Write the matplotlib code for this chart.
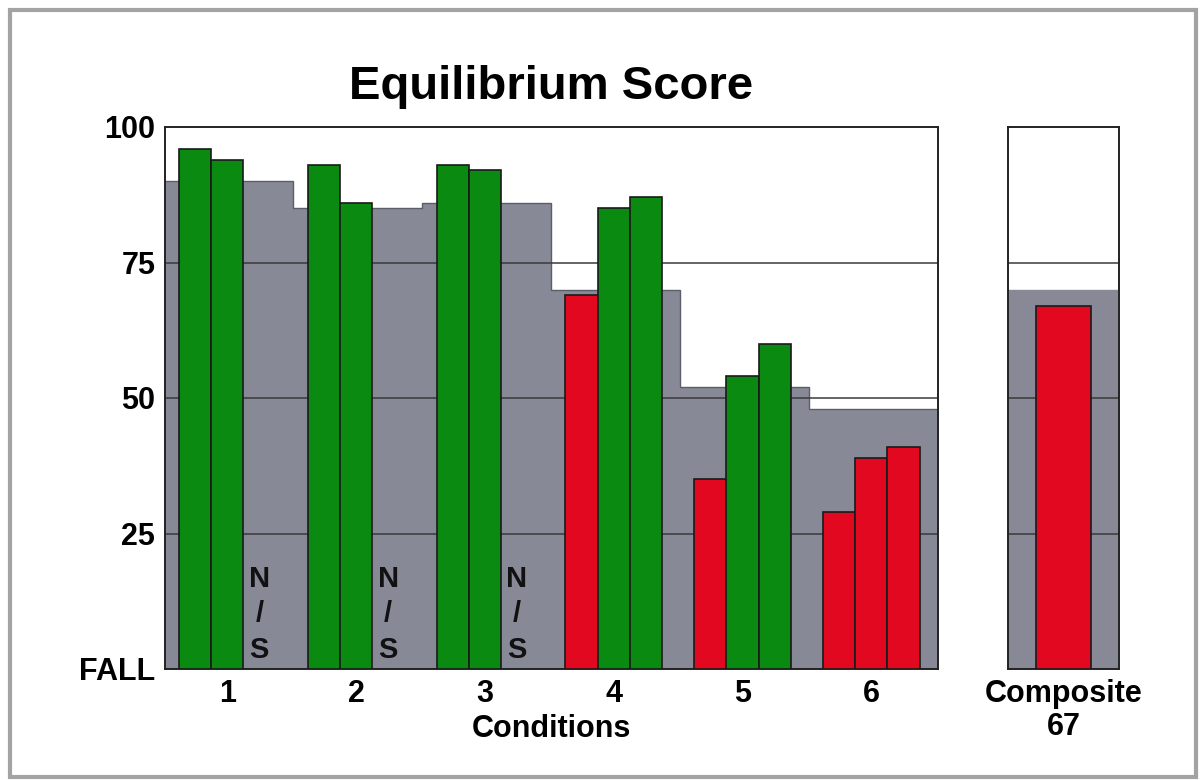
import matplotlib.pyplot as plt
from matplotlib.patches import Rectangle

# Sensory Organization Test - equilibrium scores per condition (3 trials each)
conditions = ["1", "2", "3", "4", "5", "6"]
trial1 = [96, 93, 93, 69, 35, 29]
trial2 = [94, 86, 92, 85, 54, 39]
trial3 = [None, None, None, 87, 60, 41]   # None -> N/S (not scored)
norm_limit = [90, 85, 86, 70, 52, 48]     # gray normal region
composite_score = 67
composite_norm = 70
ytick_vals = [0, 25, 50, 75, 100]
ytick_labels = ["FALL", "25", "50", "75", "100"]

GREEN = "#0b8a12"
RED = "#e2081f"
GRAY = "#878a96"
FONT = "Liberation Sans"


def bar_color(score, limit):
    return GREEN if score >= limit else RED


def main():
    plt.rcParams["font.family"] = [FONT, "DejaVu Sans"]
    plt.rcParams["font.weight"] = "bold"
    fig = plt.figure(figsize=(12.01, 7.80), dpi=100)

    ax = fig.add_axes([165 / 1201, 1 - 669 / 780, 773 / 1201, 542 / 780])
    axc = fig.add_axes([1008 / 1201, 1 - 669 / 780, 111 / 1201, 542 / 780])

    # gray normal region as a step across conditions
    edges = [-0.5] + [4 * i + 3.55 for i in range(len(conditions) - 1)] + [23.7]
    ax.stairs(norm_limit, edges, fill=True, color=GRAY, zorder=1)
    ax.stairs(norm_limit, edges, color="#5a5e68", linewidth=1.0, zorder=1.5)

    for y in [25, 50, 75]:
        ax.axhline(y, color="#3a3a3a", linewidth=1.1, zorder=2)

    trials = [trial1, trial2, trial3]
    for i, name in enumerate(conditions):
        for j, vals in enumerate(trials):
            x = 4 * i + j + 0.5
            v = vals[i]
            if v is None:
                ax.text(x, 1.0, "N\n/\nS", ha="center", va="bottom",
                        fontsize=21, fontweight="bold", linespacing=1.33,
                        color="#111111", zorder=4)
                continue
            ax.bar(x, v, width=1.0, color=bar_color(v, norm_limit[i]),
                   edgecolor="#1a1a1a", linewidth=1.2, zorder=3)

    ax.set_xlim(-0.43, 23.57)
    ax.set_ylim(0, 100)
    ax.set_xticks([4 * i + 1.5 for i in range(len(conditions))])
    ax.set_xticklabels(conditions)
    ax.set_yticks(ytick_vals)
    ax.set_yticklabels(ytick_labels)
    ax.tick_params(length=0, labelsize=22, pad=7)
    ax.set_xlabel("Conditions", fontsize=22, fontweight="bold", labelpad=4)
    ax.set_title("Equilibrium Score", fontsize=34, fontweight="bold", pad=20)
    for s in ax.spines.values():
        s.set_linewidth(1.4)
        s.set_color("#222222")

    # composite panel
    axc.axhspan(0, composite_norm, color=GRAY, zorder=1)
    for y in [25, 50, 75]:
        axc.axhline(y, color="#3a3a3a", linewidth=1.1, zorder=2)
    axc.bar(0, composite_score, width=0.5,
            color=bar_color(composite_score, composite_norm),
            edgecolor="#1a1a1a", linewidth=1.2, zorder=3)
    axc.set_xlim(-0.5, 0.5)
    axc.set_ylim(0, 100)
    axc.set_yticks([])
    axc.set_xticks([0])
    axc.set_xticklabels(["Composite\n{}".format(composite_score)],
                        linespacing=1.15)
    axc.tick_params(length=0, labelsize=22, pad=7)
    for s in axc.spines.values():
        s.set_linewidth(1.4)
        s.set_color("#222222")

    # light gray frame around the whole picture
    fig.patches.append(Rectangle((10 / 1201, 1 - 777 / 780), 1186 / 1201,
                                 767 / 780, transform=fig.transFigure,
                                 fill=False, edgecolor="#a3a3a3",
                                 linewidth=3))

    fig.savefig("out.png", dpi=100)


if __name__ == "__main__":
    main()
